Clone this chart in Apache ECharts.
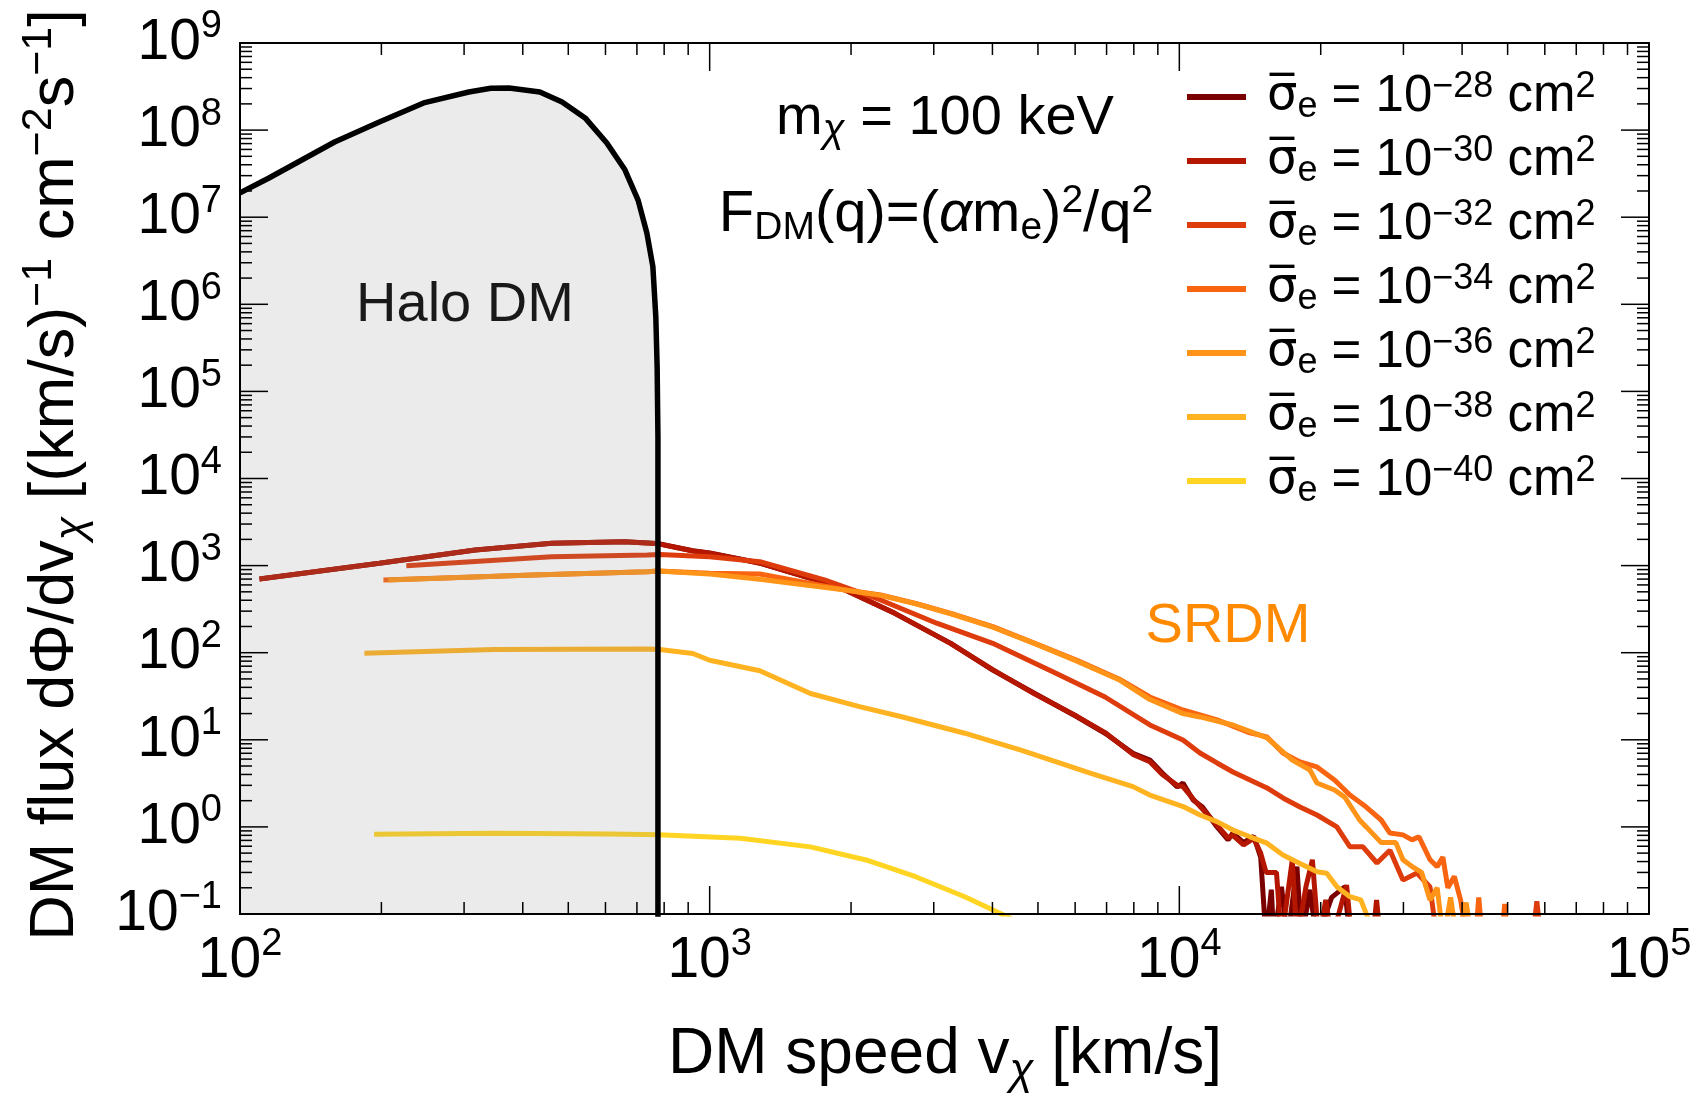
<!DOCTYPE html>
<html>
<head>
<meta charset="utf-8">
<title>SRDM flux</title>
<script src="https://cdn.jsdelivr.net/npm/echarts@6/dist/echarts.min.js"></script>
<style>
  html, body { margin: 0; padding: 0; background: #fff; }
  #chart { width: 1696px; height: 1099px; }
</style>
</head>
<body>
<div id="chart"></div>
<script>
const FONT = '"Liberation Sans", Arial, sans-serif';

// axis ranges / decades
const xDecades = [100, 1000, 10000, 100000];
const yDecades = [0.1, 1, 10, 100, 1e3, 1e4, 1e5, 1e6, 1e7, 1e8, 1e9];

// halo DM flux [km/s, flux]
const haloFlux = [
  [100, 1.9e7], [115, 2.8e7], [159, 7.3e7], [198, 1.24e8], [246, 2.05e8],
  [307, 2.74e8], [342, 3.02e8], [374, 3.04e8], [435, 2.74e8], [485, 2.1e8],
  [543, 1.38e8], [604, 7.1e7], [660, 3.5e7], [704, 1.57e7], [735, 6.6e6],
  [757, 2.7e6], [768, 7.1e5], [773, 1.9e5], [776, 3e4], [776, 0.01]
];

// SRDM curves, one per cross section
const sigmaExps = [-28, -30, -32, -34, -36, -38, -40];
const sigmaColors = ['#7b0000', '#b41600', '#de3c0c', '#f8640f', '#ff9418', '#ffb321', '#ffd422'];

const srdm28 = [
  [110, 702], [198, 1062], [317, 1510], [461, 1803], [659, 1880], [777, 1790],
  [921, 1480], [1000, 1400], [1279, 1070], [1880, 573], [2476, 283], [3262, 128],
  [4006, 63], [4924, 34], [6053, 18.4], [6948, 11.9], [7967, 7.0], [8656, 5.86],
  [9200, 4.16], [9900, 2.87], [10180, 3.19], [10700, 2.04], [11200, 1.69],
  [12030, 1.0], [12700, 0.71], [13006, 0.85], [13700, 0.66], [14400, 0.78],
  [14900, 0.45], [15300, 0.05], [15700, 0.19], [15900, 0.05], [16500, 0.205],
  [17000, 0.05], [17800, 0.35], [18200, 0.05], [18970, 0.19], [19600, 0.05],
  [21100, 0.155], [22500, 0.205], [23100, 0.05]
];
const srdm30 = [
  [110, 702], [198, 1062], [317, 1510], [461, 1803], [659, 1880], [777, 1780],
  [921, 1470], [1000, 1390], [1279, 1065], [1880, 570], [2476, 285], [3262, 127],
  [4006, 64], [4924, 33.5], [6053, 18.6], [6948, 12.1], [7967, 6.8], [8656, 5.6],
  [9200, 4.0], [9900, 3.0], [10180, 2.9], [10700, 2.1], [11200, 1.6], [12030, 1.05],
  [12700, 0.75], [13006, 0.8], [13700, 0.62], [14400, 0.74], [14900, 0.5],
  [15300, 0.3], [16100, 0.3], [16500, 0.05], [17400, 0.42], [17800, 0.05],
  [18600, 0.205], [19200, 0.42], [19800, 0.05], [20500, 0.145], [21100, 0.05],
  [22700, 0.215], [23300, 0.05], [25800, 0.05], [26300, 0.145], [26800, 0.05]
];
const srdm32 = [
  [226, 998], [461, 1265], [737, 1325], [783, 1340], [1000, 1265], [1279, 1110],
  [1755, 684], [2312, 403], [3043, 218], [4006, 128], [5460, 58], [6948, 31],
  [8656, 14.8], [10180, 9.95], [11066, 7.06], [12030, 5.42], [13006, 4.27],
  [14141, 3.46], [15370, 2.8], [16621, 2.15], [18068, 1.69], [19635, 1.37],
  [21650, 1.0], [23080, 0.59], [24600, 0.59], [26350, 0.385], [28080, 0.54],
  [29930, 0.245], [32060, 0.296], [34180, 0.204], [35400, 0.05], [56500, 0.05],
  [57700, 0.14], [58900, 0.05]
];
const srdm34 = [
  [202, 684], [420, 780], [737, 851], [777, 867], [1000, 817], [1279, 802],
  [1945, 525], [2312, 459], [2745, 369], [3262, 283], [4006, 199], [4924, 128],
  [6053, 82], [7439, 50], [8656, 31], [10180, 22], [12030, 16.9], [14141, 12],
  [15370, 10.8], [16621, 7.06], [18068, 5.56], [19635, 4.88], [21400, 3.46],
  [23080, 2.32], [25000, 1.69], [26900, 1.2], [28080, 0.85], [29930, 0.81],
  [31300, 0.71], [32370, 0.77], [34180, 0.42], [35400, 0.35], [36400, 0.45],
  [37300, 0.2], [38500, 0.27], [39700, 0.145], [41000, 0.05], [42700, 0.05],
  [43400, 0.155], [44200, 0.05], [48500, 0.05], [49300, 0.13], [50100, 0.05]
];
const srdm36 = [
  [207, 684], [420, 780], [737, 851], [777, 867], [1000, 800], [1279, 697],
  [1945, 525], [2312, 455], [2745, 365], [3262, 280], [4006, 196], [4924, 127],
  [6053, 80], [7439, 49], [8656, 29], [10180, 20], [11066, 18.3], [13006, 14.8],
  [15370, 10.5], [17400, 5.86], [18970, 4.5], [19635, 3.19], [21400, 2.65],
  [22500, 2.2], [24200, 1.2], [25000, 1.0], [26900, 0.66], [28900, 0.66],
  [29930, 0.42], [31300, 0.35], [32800, 0.3], [34180, 0.145], [35400, 0.2],
  [36500, 0.05], [37800, 0.155], [39000, 0.05], [40800, 0.135], [42000, 0.05]
];
const srdm38 = [
  [184, 98.5], [348, 109], [737, 110], [783, 109], [921, 98], [1000, 82],
  [1279, 62], [1639, 34], [2085, 24], [2563, 18.4], [3492, 11.9], [4599, 7.6],
  [6486, 4.12], [7967, 2.9], [8656, 2.32], [10193, 1.71], [11066, 1.37],
  [12030, 1.15], [13006, 0.92], [14141, 0.77], [15370, 0.65], [16621, 0.475],
  [18068, 0.38], [19635, 0.306], [20600, 0.293], [21650, 0.206], [23080, 0.158],
  [24350, 0.145], [25200, 0.09], [26000, 0.05]
];
const srdm40 = [
  [193, 0.822], [348, 0.845], [611, 0.83], [780, 0.81], [1162, 0.74],
  [1639, 0.59], [2153, 0.417], [2745, 0.268], [3492, 0.158], [4360, 0.09],
  [4600, 0.07]
];
const srdmData = [srdm28, srdm30, srdm32, srdm34, srdm36, srdm38, srdm40];

// minor ticks 2..9 inside every decade
function minorTicks(decades) {
  const out = [];
  for (let i = 0; i < decades.length - 1; i++) {
    for (let k = 2; k <= 9; k++) out.push(k * decades[i]);
  }
  return out;
}

const X_MIN = xDecades[0], X_MAX = xDecades[xDecades.length - 1];
const Y_MIN = yDecades[0], Y_MAX = yDecades[yDecades.length - 1];

const xTickData = xDecades.map(v => [v, 1, 1]).concat(minorTicks(xDecades).map(v => [v, 1, 0]));
const yTickData = yDecades.map(v => [100, v, 1]).concat(minorTicks(yDecades).map(v => [100, v, 0]));

function powLabel(v) {
  const e = Math.round(Math.log10(v));
  return '{b|10}{s|' + (e < 0 ? '\u2212' + (-e) : e) + '}';
}

const tickRich = {
  b: { fontSize: 57, lineHeight: 70, fontFamily: FONT, color: '#000' },
  s: { fontSize: 38, lineHeight: 38, verticalAlign: 'top', fontFamily: FONT, color: '#000' }
};

function tickLine(x1, y1, x2, y2) {
  return { type: 'line', shape: { x1: x1, y1: y1, x2: x2, y2: y2 }, style: { stroke: '#000', lineWidth: 1.5 } };
}

const chart = echarts.init(document.getElementById('chart'));

const srdmSeries = sigmaExps.map((e, i) => ({
  name: String(e),
  type: 'line',
  data: srdmData[i],
  symbol: 'none',
  showSymbol: false,
  itemStyle: { color: sigmaColors[i] },
  lineStyle: { color: sigmaColors[i], width: 5 },
  emphasis: { disabled: true },
  clip: true,
  silent: true,
  z: 2
}));

const option = {
  animation: false,
  backgroundColor: '#fff',
  grid: {
    left: 240, top: 43, right: 47, bottom: 185,
    show: true, borderColor: '#000', borderWidth: 2,
    backgroundColor: 'transparent',
    outerBoundsMode: 'none', containLabel: false, z: 10
  },
  xAxis: {
    type: 'log', logBase: 10, min: X_MIN, max: X_MAX, splitNumber: 3,
    axisLine: { show: false }, axisTick: { show: false }, splitLine: { show: false },
    axisLabel: { margin: 12, formatter: powLabel, rich: tickRich, showMinLabel: true, showMaxLabel: true }
  },
  yAxis: {
    type: 'log', logBase: 10, min: Y_MIN, max: Y_MAX, splitNumber: 10,
    axisLine: { show: false }, axisTick: { show: false }, splitLine: { show: false },
    axisLabel: { margin: 18, formatter: powLabel, rich: tickRich, showMinLabel: true, showMaxLabel: true }
  },
  legend: {
    data: sigmaExps.map(String),
    orient: 'vertical',
    left: 1182, top: 64,
    icon: 'rect',
    itemWidth: 59, itemHeight: 6, itemGap: 8,
    selectedMode: false,
    formatter: name => '{sig|\u03c3\u0305}{sub|e}{b| = 10}{sup|\u2212' + (-Number(name)) + '}{b| cm}{sup|2}',
    textStyle: {
      color: '#000', fontFamily: FONT, fontSize: 51,
      rich: {
        sig: { fontFamily: '"DejaVu Sans", sans-serif', fontSize: 48, lineHeight: 56, color: '#000', padding: [0, 0, 0, 16] },
        b: { fontFamily: FONT, fontSize: 51, lineHeight: 56, color: '#000' },
        sub: { fontFamily: FONT, fontSize: 36, lineHeight: 20, verticalAlign: 'bottom', color: '#000' },
        sup: { fontFamily: FONT, fontSize: 36, lineHeight: 20, verticalAlign: 'top', color: '#000' }
      }
    }
  },
  graphic: [
    {
      type: 'text', x: 465, y: 306,
      style: { text: 'Halo DM', fontFamily: FONT, fontSize: 56, fill: '#000', align: 'center', verticalAlign: 'middle' }
    },
    {
      type: 'text', x: 1228, y: 627,
      style: { text: 'SRDM', fontFamily: FONT, fontSize: 56, fill: '#ff8a00', align: 'center', verticalAlign: 'middle' }
    },
    {
      type: 'text', x: 945, y: 119,
      style: {
        text: '{b|m}{sub|\u03c7}{b| = 100 keV}', align: 'center', verticalAlign: 'middle',
        rich: {
          b: { fontFamily: FONT, fontSize: 56, lineHeight: 64, fill: '#000' },
          sub: { fontFamily: FONT, fontSize: 40, fontStyle: 'italic', lineHeight: 28, verticalAlign: 'bottom', fill: '#000' }
        }
      }
    },
    {
      type: 'text', x: 936, y: 215,
      style: {
        text: '{b|F}{sub|DM}{b|(q)=(}{i|\u03b1}{b|m}{sub|e}{b|)}{sup|2}{b|/q}{sup|2}',
        align: 'center', verticalAlign: 'middle',
        rich: {
          b: { fontFamily: FONT, fontSize: 58, lineHeight: 66, fill: '#000' },
          i: { fontFamily: FONT, fontSize: 58, lineHeight: 66, fontStyle: 'italic', fill: '#000' },
          sub: { fontFamily: FONT, fontSize: 39, lineHeight: 34, verticalAlign: 'bottom', fill: '#000' },
          sup: { fontFamily: FONT, fontSize: 39, lineHeight: 30, verticalAlign: 'top', fill: '#000' }
        }
      }
    },
    {
      type: 'text', x: 945, y: 1055,
      style: {
        text: '{b|DM speed v}{sub|\u03c7}{b| [km/s]}', align: 'center', verticalAlign: 'middle',
        rich: {
          b: { fontFamily: FONT, fontSize: 64, lineHeight: 78, fill: '#000' },
          sub: { fontFamily: FONT, fontSize: 44, fontStyle: 'italic', lineHeight: 38, verticalAlign: 'bottom', fill: '#000' }
        }
      }
    },
    {
      type: 'text', x: 56, y: 475, rotation: Math.PI / 2,
      style: {
        text: '{b|DM flux d\u03a6/dv}{sub|\u03c7}{b| [(km/s)}{sup|\u22121}{b| cm}{sup|\u22122}{b|s}{sup|\u22121}{b|]}',
        align: 'center', verticalAlign: 'middle',
        rich: {
          b: { fontFamily: FONT, fontSize: 63, lineHeight: 76, fill: '#000' },
          sub: { fontFamily: FONT, fontSize: 43, fontStyle: 'italic', lineHeight: 36, verticalAlign: 'bottom', fill: '#000' },
          sup: { fontFamily: FONT, fontSize: 43, lineHeight: 36, verticalAlign: 'top', fill: '#000' }
        }
      }
    }
  ],
  series: srdmSeries.concat([
    {
      name: 'halo',
      type: 'line',
      data: haloFlux,
      symbol: 'none',
      showSymbol: false,
      lineStyle: { color: '#000', width: 5.5 },
      areaStyle: { color: 'rgba(144,144,144,0.25)', origin: 'start' },
      emphasis: { disabled: true },
      clip: true,
      silent: true,
      z: 3
    },
    {
      // ticks along bottom and top
      type: 'custom',
      silent: true,
      clip: false,
      z: 11,
      data: xTickData,
      renderItem: function (params, api) {
        const v = api.value(0);
        const len = api.value(2) ? 28 : 12;
        const a = api.coord([v, Y_MIN]);
        const b = api.coord([v, Y_MAX]);
        return {
          type: 'group',
          children: [tickLine(a[0], a[1], a[0], a[1] - len), tickLine(b[0], b[1], b[0], b[1] + len)]
        };
      }
    },
    {
      // ticks along left and right
      type: 'custom',
      silent: true,
      clip: false,
      z: 11,
      data: yTickData,
      renderItem: function (params, api) {
        const v = api.value(1);
        const len = api.value(2) ? 28 : 12;
        const a = api.coord([X_MIN, v]);
        const b = api.coord([X_MAX, v]);
        return {
          type: 'group',
          children: [tickLine(a[0], a[1], a[0] + len, a[1]), tickLine(b[0], b[1], b[0] - len, b[1])]
        };
      }
    }
  ])
};

chart.setOption(option);
</script>
</body>
</html>
